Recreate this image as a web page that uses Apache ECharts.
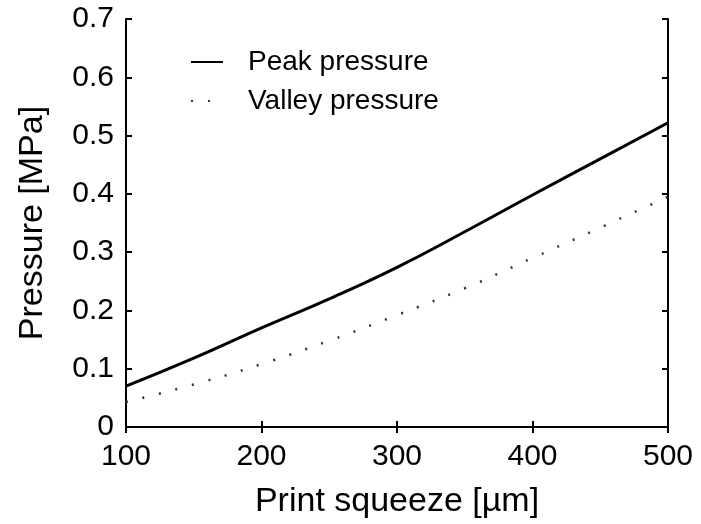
<!DOCTYPE html>
<html>
<head>
<meta charset="utf-8">
<script src="https://cdn.jsdelivr.net/npm/echarts@6/dist/echarts.min.js"></script>
<style>html,body{margin:0;padding:0;background:#fff;}#c{width:701px;height:524px;}</style>
</head>
<body>
<div id="c"></div>
<script>
const squeeze = [100, 150, 200, 250, 300, 350, 400, 450, 500];
const peakPressure = [0.070, 0.118, 0.170, 0.220, 0.274, 0.335, 0.398, 0.460, 0.522];
const valleyPressure = [0.043, 0.073, 0.108, 0.148, 0.192, 0.238, 0.290, 0.342, 0.395];
const seriesNames = ['Peak pressure', 'Valley pressure'];
const xTitle = 'Print squeeze [\u00b5m]';
const yTitle = 'Pressure [MPa]';

const font = 'Liberation Sans, Arial, sans-serif';
const chart = echarts.init(document.getElementById('c'), null, {renderer: 'canvas'});
const axisCommon = {
  axisLine: {show: true, lineStyle: {color: '#000', width: 2}},
  axisTick: {show: true, inside: true, length: 6, lineStyle: {color: '#000', width: 2}},
  splitLine: {show: false}
};
chart.setOption({
  backgroundColor: '#fff',
  animation: false,
  grid: {left: 126, right: 33, top: 19, bottom: 96, containLabel: false},
  legend: {
    orient: 'vertical', left: 190, top: 48, padding: 0,
    itemWidth: 32, itemHeight: 14, itemGap: 11,
    itemStyle: {opacity: 0},
    textStyle: {fontFamily: font, fontSize: 28, color: '#000', padding: [0, 0, 0, 20]},
    data: seriesNames
  },
  xAxis: [
    Object.assign({type: 'value', min: 100, max: 500, interval: 100, position: 'bottom',
      name: xTitle, nameLocation: 'middle', nameGap: 58,
      nameTextStyle: {fontFamily: font, fontSize: 34, color: '#000'},
      axisLabel: {fontFamily: font, fontSize: 30, color: '#000', margin: 15}}, axisCommon),
    Object.assign({type: 'value', min: 100, max: 500, interval: 100, position: 'top',
      axisLabel: {show: false}}, axisCommon)
  ],
  yAxis: [
    Object.assign({type: 'value', min: 0, max: 0.7, interval: 0.1, position: 'left',
      name: yTitle, nameLocation: 'middle', nameGap: 76,
      nameTextStyle: {fontFamily: font, fontSize: 34, color: '#000'},
      axisLabel: {fontFamily: font, fontSize: 30, color: '#000', margin: 12,
        formatter: v => v === 0 ? '0' : v.toFixed(1)}}, axisCommon),
    Object.assign({type: 'value', min: 0, max: 0.7, interval: 0.1, position: 'right',
      axisLabel: {show: false}}, axisCommon)
  ],
  series: [
    {name: seriesNames[0], type: 'line', symbol: 'none', smooth: true,
      data: squeeze.map((x, i) => [x, peakPressure[i]]),
      lineStyle: {color: '#000', width: 3, type: 'solid'}, itemStyle: {color: '#000'}},
    {name: seriesNames[1], type: 'line', symbol: 'none', smooth: true,
      data: squeeze.map((x, i) => [x, valleyPressure[i]]),
      lineStyle: {color: '#333', width: 2.5, type: [2, 15]}, itemStyle: {color: '#333'}}
  ]
});
</script>
</body>
</html>
